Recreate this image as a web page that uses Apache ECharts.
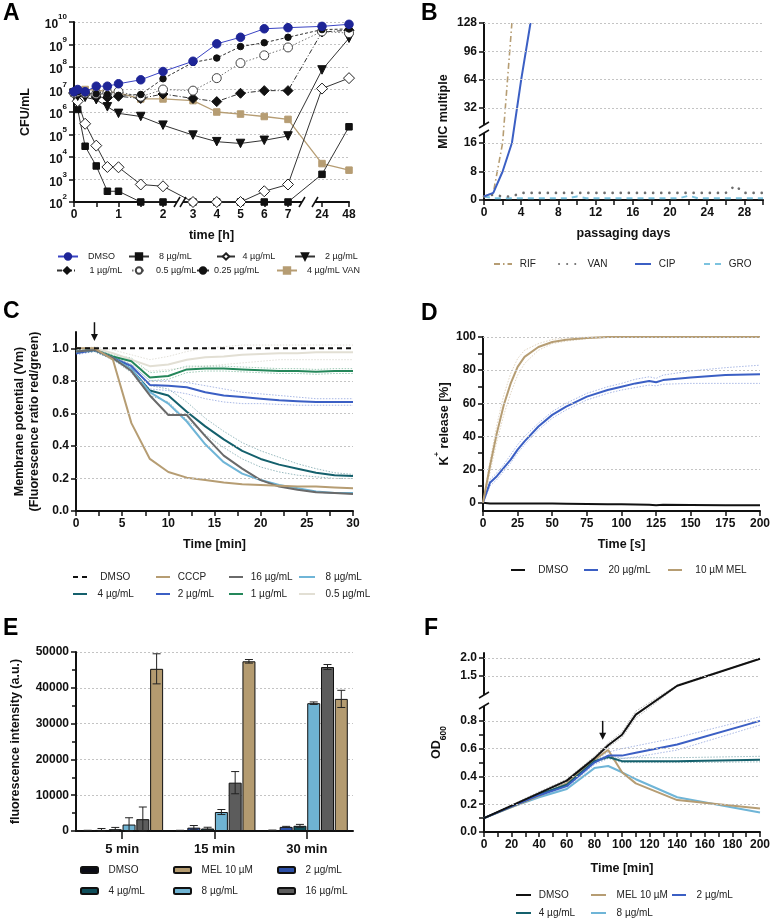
<!DOCTYPE html>
<html>
<head>
<meta charset="utf-8">
<title>Figure</title>
<script src="https://cdn.jsdelivr.net/npm/echarts@6.0.0/dist/echarts.min.js"></script>
<style>
  html, body { margin: 0; padding: 0; background: #fff; }
  #chart { width: 773px; height: 922px; }
</style>
</head>
<body>
<div id="chart"></div>
<script>
// ---------- A: CFU/mL over time ----------
const aTime = [0, 0.083, 0.25, 0.5, 0.75, 1, 1.5, 2, 3, 4, 5, 6, 7, 24, 48];
const aDMSO = [8e6, 1e7, 8e6, 1.4e7, 1.4e7, 1.8e7, 2.7e7, 6.3e7, 1.8e8, 1.07e9, 2.1e9, 5e9, 5.6e9, 6.4e9, 7.9e9];
const a8 = [7e6, 1.3e6, 3e4, 4e3, 3e2, 3e2, 1e2, 1e2, 1e2, 1e2, 1e2, 1e2, 1e2, 1.7e3, 2.2e5];
const a4 = [7e6, 3e6, 3e5, 3.2e4, 3.6e3, 3.5e3, 6e2, 5e2, 1e2, 1e2, 1e2, 3e2, 6e2, 1.1e7, 3.2e7];
const a2 = [7e6, 5e6, 4.5e6, 3.5e6, 1.7e6, 8.7e5, 6.3e5, 2.6e5, 9.4e4, 4.8e4, 4e4, 5.5e4, 8.6e4, 7.4e7, 1.9e9];
const a1 = [7e6, 6e6, 6e6, 4.6e6, 4.4e6, 5e6, 4e6, 6.3e6, 4e6, 2.9e6, 6.8e6, 8.9e6, 8.9e6, 3.6e9, 4.3e9];
const a05 = [7e6, 8e6, 7e6, 6.5e6, 7e6, 8e6, 4.8e6, 1e7, 8.9e6, 3.2e7, 1.5e8, 3.3e8, 7.4e8, 3.8e9, 3.2e9];
const a025 = [7e6, 8e6, 7e6, 6.5e6, 6e6, 5.5e6, 6e6, 3e7, 1.6e8, 2.5e8, 8.1e8, 1.2e9, 2.1e9, 4.6e9, 4.9e9];
const aVAN = [7e6, 8e6, 1e7, 9.5e6, 8e6, 7e6, 3.8e6, 3.8e6, 3.2e6, 1e6, 8.1e5, 6.3e5, 4.7e5, 5.1e3, 2.6e3];
const aXTicks = [0, 0.5, 1, 1.5, 2, 3, 4, 5, 6, 7, 24, 48];
const aXLabels = [0, 1, 2, 3, 4, 5, 6, 7, 24, 48];

// ---------- B: resistance development ----------
const bDays = [0, 1, 2, 3, 4, 5, 6, 7, 8, 9, 10, 11, 12, 13, 14, 15, 16, 17, 18, 19, 20, 21, 22, 23, 24, 25, 26, 27, 28, 29, 30];
const bRIF = [1, 2, 16, 128];
const bCIP = [1, 2, 8, 16, 64, 128];
const bVAN = [1, 1.5, 1, 1, 2, 2, 2, 2, 2, 2, 2, 2, 2, 2, 2, 2, 2, 2, 2, 2, 2, 2, 2, 2, 2, 2, 2, 4, 2, 2, 2];
const bGRO = [1, 0.5, 0.5, 0.5, 0.5, 0.5, 0.5, 0.5, 0.5, 0.5, 1, 0.5, 0.5, 0.5, 0.5, 0.5, 0.5, 0.5, 0.5, 0.5, 0.5, 0.5, 1.2, 0.5, 0.5, 0.5, 0.5, 0.5, 0.5, 0.5, 0.5];
const bXLabels = [0, 4, 8, 12, 16, 20, 24, 28];
const bXTicks = [0, 2, 4, 6, 8, 10, 12, 14, 16, 18, 20, 22, 24, 26, 28, 30];
const bYLabels = [0, 8, 16, 32, 64, 96, 128];

// ---------- C: membrane potential ----------
const cTime = [0, 2, 4, 6, 8, 10, 12, 14, 16, 18, 20, 22, 24, 26, 28, 30];
const cDMSO = [1, 1, 1, 1, 1, 1, 1, 1, 1, 1, 1, 1, 1, 1, 1, 1];
const cCCCP = [1.0, 1.0, 0.93, 0.54, 0.32, 0.24, 0.205, 0.19, 0.175, 0.165, 0.16, 0.155, 0.15, 0.15, 0.145, 0.14];
const c16 = [0.98, 0.99, 0.94, 0.86, 0.71, 0.59, 0.59, 0.46, 0.34, 0.26, 0.19, 0.15, 0.13, 0.115, 0.11, 0.105];
const c8 = [0.98, 0.99, 0.94, 0.87, 0.73, 0.66, 0.55, 0.41, 0.30, 0.23, 0.19, 0.16, 0.14, 0.12, 0.11, 0.11];
const c4 = [0.98, 0.99, 0.94, 0.87, 0.74, 0.71, 0.61, 0.52, 0.44, 0.37, 0.32, 0.285, 0.26, 0.235, 0.22, 0.215];
const c2 = [0.97, 0.99, 0.94, 0.89, 0.775, 0.77, 0.76, 0.73, 0.71, 0.70, 0.69, 0.68, 0.675, 0.67, 0.67, 0.67];
const c1 = [0.98, 0.99, 0.95, 0.92, 0.82, 0.83, 0.87, 0.875, 0.875, 0.87, 0.865, 0.86, 0.86, 0.855, 0.86, 0.86];
const c05 = [0.98, 1.0, 0.97, 0.93, 0.89, 0.90, 0.93, 0.945, 0.95, 0.96, 0.965, 0.97, 0.97, 0.975, 0.975, 0.975];
// replicate spread (dotted lines)
const c4Hi = [0.99, 1.0, 0.95, 0.89, 0.77, 0.75, 0.67, 0.57, 0.49, 0.42, 0.37, 0.33, 0.29, 0.26, 0.235, 0.225];
const c4Lo = [0.97, 0.98, 0.93, 0.85, 0.71, 0.67, 0.56, 0.47, 0.39, 0.32, 0.27, 0.24, 0.22, 0.21, 0.2, 0.2];
const c2Hi = [0.98, 1.0, 0.95, 0.9, 0.8, 0.8, 0.79, 0.77, 0.75, 0.73, 0.72, 0.71, 0.7, 0.69, 0.69, 0.69];
const c2Lo = [0.96, 0.98, 0.93, 0.87, 0.75, 0.74, 0.72, 0.69, 0.67, 0.66, 0.66, 0.655, 0.65, 0.65, 0.65, 0.65];
const c1Hi = [0.99, 1.0, 0.96, 0.94, 0.85, 0.86, 0.89, 0.89, 0.89, 0.885, 0.88, 0.875, 0.875, 0.87, 0.875, 0.875];
const c1Lo = [0.97, 0.98, 0.94, 0.9, 0.8, 0.81, 0.85, 0.86, 0.86, 0.855, 0.85, 0.845, 0.845, 0.84, 0.845, 0.845];
const c05Hi = [0.99, 1.01, 0.99, 0.96, 0.93, 0.95, 0.98, 1.0, 1.01, 1.02, 1.02, 1.02, 1.02, 1.02, 1.02, 1.02];
const c05Lo = [0.97, 0.99, 0.95, 0.9, 0.86, 0.87, 0.88, 0.89, 0.9, 0.91, 0.92, 0.93, 0.93, 0.93, 0.93, 0.93];
const cXLabels = [0, 5, 10, 15, 20, 25, 30];
const cXTicks = [0, 2.5, 5, 7.5, 10, 12.5, 15, 17.5, 20, 22.5, 25, 27.5, 30];
const cYLabels = [0, 0.2, 0.4, 0.6, 0.8, 1.0];

// ---------- D: K+ release ----------
const dTime = [0, 5, 10, 15, 20, 25, 30, 40, 50, 60, 75, 90, 100, 110, 120, 125, 130, 150, 175, 200];
const dDMSO = [0, -0.5, -0.5, -0.5, -0.5, -0.5, -0.5, -0.5, -0.5, -0.6, -0.8, -1, -1, -1.1, -1.3, -1.5, -1.3, -1.4, -1.5, -1.5];
const d20 = [0, 12, 16, 21, 26, 32, 37, 46, 53, 58, 64, 68, 70, 72, 73.5, 72.7, 74, 75.5, 77, 77.5];
const dMEL = [0, 22, 42, 59, 72, 82, 88, 94, 97, 98.4, 99.4, 100, 100, 100, 100, 100, 100, 100, 100, 100];
const d20Hi = [0, 14, 18, 23, 29, 35, 40, 48, 55, 60, 66, 70, 72, 74.5, 76, 75, 77, 79.5, 81.5, 83];
const d20Lo = [0, 10, 14, 19, 24, 30, 35, 44, 51, 56, 62, 66, 68, 69.5, 71, 70.5, 71.5, 72, 72, 72];
const dMELHi = [0, 25, 47, 65, 78, 87, 92, 96, 98.5, 99.5, 100, 100, 100, 100, 100, 100, 100, 100, 100, 100];
const dMELLo = [0, 18, 37, 53, 66, 77, 84, 92, 96, 97.5, 99, 100, 100, 100, 100, 100, 100, 100, 100, 100];
const dXLabels = [0, 25, 50, 75, 100, 125, 150, 175, 200];
const dYLabels = [0, 20, 40, 60, 80, 100];
const dYTicks = [0, 10, 20, 30, 40, 50, 60, 70, 80, 90, 100];

// ---------- E: fluorescence bars ----------
const eCats = ['5 min', '15 min', '30 min'];
const eDMSO = [150, 150, 200];
const e2 = [300, 930, 1150];
const e4 = [500, 700, 1450];
const e8 = [1800, 5300, 35700];
const e16 = [3300, 13500, 45800];
const eMEL = [45300, 47400, 36900];
const eDMSOErr = [50, 50, 50];
const e2Err = [400, 600, 150];
const e4Err = [500, 350, 400];
const e8Err = [1900, 700, 350];
const e16Err = [3400, 3100, 700];
const eMELErr = [4200, 500, 2400];

// ---------- F: OD600 ----------
const fTime = [0, 20, 40, 60, 80, 90, 100, 110, 140, 200];
const fDMSO = [0.1, 0.19, 0.28, 0.37, 0.53, 0.625, 0.7, 0.845, 1.23, 1.98];
const fMEL = [0.1, 0.18, 0.26, 0.35, 0.52, 0.59, 0.43, 0.35, 0.23, 0.17];
const f2 = [0.1, 0.185, 0.265, 0.33, 0.50, 0.55, 0.55, 0.57, 0.63, 0.80];
const f4 = [0.1, 0.185, 0.27, 0.34, 0.51, 0.54, 0.51, 0.51, 0.51, 0.52];
const f8 = [0.1, 0.18, 0.25, 0.31, 0.46, 0.475, 0.43, 0.38, 0.25, 0.14];
const fDMSOHi = [0.1, 0.195, 0.29, 0.38, 0.545, 0.64, 0.72, 0.87, 1.25, 1.99];
const fDMSOLo = [0.1, 0.185, 0.27, 0.36, 0.515, 0.61, 0.68, 0.82, 1.21, 1.97];
const f2Hi = [0.1, 0.19, 0.275, 0.345, 0.515, 0.575, 0.6, 0.62, 0.68, 0.83];
const f2Lo = [0.1, 0.18, 0.255, 0.315, 0.485, 0.53, 0.53, 0.54, 0.59, 0.77];
const f4Hi = [0.1, 0.19, 0.28, 0.35, 0.52, 0.55, 0.53, 0.535, 0.535, 0.545];
const f4Lo = [0.1, 0.18, 0.26, 0.33, 0.5, 0.53, 0.5, 0.5, 0.5, 0.505];
const fXLabels = [0, 20, 40, 60, 80, 100, 120, 140, 160, 180, 200];
const fXTicks = [0, 10, 20, 30, 40, 50, 60, 70, 80, 90, 100, 110, 120, 130, 140, 150, 160, 170, 180, 190, 200];
const fYLabels = [0, 0.2, 0.4, 0.6, 0.8, 1.5, 2.0];
const fYTicks = [0, 0.1, 0.2, 0.3, 0.4, 0.5, 0.6, 0.7, 0.8, 1.5, 2.0];

// ---------- styling ----------
const FONT = '"Liberation Sans", Arial, sans-serif';
const TAN = '#b69d73', BLUE = '#3b5fc4', TEAL = '#14606c', LBLUE = '#6fb5d7',
      GRAY = '#6a6a6a', GREEN = '#24875a', BEIGE = '#e2dfd4', NAVY = '#1e2597', INK = '#111';

// broken axes: map real values onto the drawn axis length
function ax(t) {
  if (t <= 2) return t * 44.5;
  if (t <= 7) return 119 + (t - 3) * 23.75;
  if (t <= 24) return 214 + (t - 7) * 2;
  return 248 + (t - 24) * 27 / 24;
}
function by(v) { return v <= 16 ? v * 57 / 16 : 92 + (v - 32) * 85 / 96; }
function fy(v) {
  if (v <= 0.9) return v * 125 / 0.9;
  if (v >= 1.1) return 156 + (v - 1.5) * 36;
  return 125 + (v - 0.9) * 83;
}
function lookup(fn, vals, fmt) {
  return function (v) {
    const hit = vals.find(t => Math.abs(fn(t) - v) < 1e-6);
    return hit === undefined ? '' : fmt(hit);
  };
}

function merge(a, b) {
  const o = Object.assign({}, a);
  for (const k in b) {
    const bv = b[k];
    if (bv && typeof bv === 'object' && !Array.isArray(bv) && a[k] && typeof a[k] === 'object') o[k] = merge(a[k], bv);
    else o[k] = bv;
  }
  return o;
}
const BASE_AXIS = {
  axisLine: { show: true, onZero: false, lineStyle: { color: INK, width: 2 } },
  axisTick: { show: true, length: 5, lineStyle: { color: INK, width: 1.5 } },
  axisLabel: { color: INK, fontSize: 12, fontWeight: 'bold', fontFamily: FONT, margin: 7 },
  splitLine: { show: false },
  nameLocation: 'middle',
  nameTextStyle: { color: INK, fontSize: 12.5, fontWeight: 'bold', fontFamily: FONT }
};
const DOT_GRID = { show: true, lineStyle: { color: '#c4c4c4', type: [2, 2], width: 1 } };
function axis(gi, extra) { return merge(BASE_AXIS, Object.assign({ gridIndex: gi }, extra)); }

function gridSeries(gi, vals) {
  return {
    type: 'line', xAxisIndex: gi, yAxisIndex: gi, data: [], silent: true, z: 1,
    markLine: {
      silent: true, symbol: ['none', 'none'], label: { show: false }, animation: false,
      lineStyle: { color: '#c4c4c4', type: [2, 2], width: 1 },
      emphasis: { disabled: true },
      data: vals.map(v => ({ yAxis: v }))
    }
  };
}
function pairs(xs, ys, fx, fyv) {
  return ys.map((y, i) => [fx ? fx(xs[i]) : xs[i], fyv ? fyv(y) : y]);
}
function lineS(name, gi, data, color, width, type, extra) {
  return Object.assign({
    name, type: 'line', xAxisIndex: gi, yAxisIndex: gi, data, symbol: 'none', z: 3,
    lineStyle: { color, width, type: type || 'solid' }, itemStyle: { color }
  }, extra || {});
}
// faint dotted replicate line
function sdS(gi, data, color) {
  return { type: 'line', xAxisIndex: gi, yAxisIndex: gi, data, symbol: 'none', z: 2, silent: true,
    lineStyle: { color, width: 0.8, type: [1.5, 1.5], opacity: 0.55 } };
}
function markS(name, data, sym, size, fill, border, lineColor, lineType, extra) {
  return Object.assign({
    name, type: 'line', xAxisIndex: 0, yAxisIndex: 0, data, symbol: sym, symbolSize: size, z: 3,
    showAllSymbol: true,
    itemStyle: { color: fill, borderColor: border, borderWidth: 1 },
    lineStyle: { color: lineColor, width: 1, type: lineType || 'solid' }
  }, extra || {});
}

// one legend per entry, so each sits where the figure puts it
function leg(name, iconLeft, textLeft, rowY, iconW, iconH, lineOnly, fontSize) {
  const fs = fontSize || 10;
  const n = Math.max(0, Math.round((textLeft - iconLeft - iconW - 5) / (fs * 0.28)));
  const pad = ' '.repeat(n);
  const o = {
    data: [name], left: iconLeft, top: rowY - 7, padding: 0, itemWidth: iconW, itemHeight: iconH || 10,
    selectedMode: false, formatter: nm => pad + nm.split('#')[0],
    textStyle: { fontSize: fs, color: '#222', fontFamily: FONT }
  };
  if (lineOnly) o.itemStyle = { opacity: 0 };
  return o;
}
const legL = (name, il, tl, y, w) => leg(name, il, tl, y, w, 10, true);
const legA = (name, il, tl, y, w) => leg(name, il, tl, y, w, 8, false, 9);

const E_BW = 13, E_GAP = 0.06, E_STEP = E_BW * (1 + E_GAP);
const eSets = [
  ['DMSO#E', eDMSO, eDMSOErr, '#0b0c16'],
  ['2 µg/mL#E', e2, e2Err, '#2c4fa6'],
  ['4 µg/mL#E', e4, e4Err, '#0f4e5a'],
  ['8 µg/mL#E', e8, e8Err, '#6fb3d2'],
  ['16 µg/mL#E', e16, e16Err, '#5c5c5c'],
  ['MEL 10 µM#E', eMEL, eMELErr, '#b49b70']
];
const eErrData = [];
eSets.forEach((s, k) => s[1].forEach((v, c) => eErrData.push([c, v, s[2][c], k])));

const letters = [['A', 3, 2], ['B', 421, 2], ['C', 3, 300], ['D', 421, 302], ['E', 3, 617], ['F', 424, 617]];

const option = {
  animation: false,
  backgroundColor: '#fff',
  textStyle: { fontFamily: FONT },
  title: letters.map(l => ({ text: l[0], left: l[1], top: l[2], padding: 0,
    textStyle: { fontSize: 23, fontWeight: 'bold', color: '#000', fontFamily: FONT } })),
  grid: [
    { left: 74, top: 22, width: 275, height: 180 },
    { left: 484, top: 23, width: 279, height: 177 },
    { left: 76, top: 332, width: 277, height: 179 },
    { left: 483, top: 337, width: 279, height: 174 },
    { left: 76, top: 652, width: 277, height: 179 },
    { left: 484, top: 653, width: 278, height: 179 }
  ],
  xAxis: [
    axis(0, { type: 'value', min: 0, max: 275, name: 'time [h]', nameGap: 27,
      axisLabel: { customValues: aXLabels.map(ax), formatter: lookup(ax, aXLabels, String) },
      axisTick: { customValues: aXTicks.map(ax) } }),
    axis(1, { type: 'value', min: 0, max: 30, name: 'passaging days', nameGap: 27,
      axisLabel: { customValues: bXLabels }, axisTick: { customValues: bXTicks } }),
    axis(2, { type: 'value', min: 0, max: 30, name: 'Time [min]', nameGap: 27,
      axisLabel: { customValues: cXLabels }, axisTick: { customValues: cXTicks } }),
    axis(3, { type: 'value', min: 0, max: 200, name: 'Time [s]', nameGap: 27,
      axisLabel: { customValues: dXLabels }, axisTick: { customValues: dXLabels } }),
    axis(4, { type: 'category', data: eCats, axisTick: { alignWithLabel: true, length: 8 },
      axisLabel: { fontSize: 13, margin: 12 } }),
    axis(5, { type: 'value', min: 0, max: 200, name: 'Time [min]', nameGap: 30,
      axisLabel: { customValues: fXLabels }, axisTick: { customValues: fXTicks } })
  ],
  yAxis: [
    axis(0, { type: 'log', logBase: 10, min: 100, max: 1e10, name: 'CFU/mL', nameGap: 42,
      splitLine: DOT_GRID,
      axisLabel: {
        formatter: v => '{b|10}{s|' + Math.round(Math.log10(v)) + '}',
        rich: {
          b: { fontSize: 12, fontWeight: 'bold', color: INK, fontFamily: FONT, lineHeight: 18, verticalAlign: 'bottom' },
          s: { fontSize: 8, fontWeight: 'bold', color: INK, fontFamily: FONT, verticalAlign: 'top' }
        }
      } }),
    axis(1, { type: 'value', min: 0, max: 177, name: 'MIC multiple', nameGap: 34,
      axisLabel: { customValues: bYLabels.map(by), formatter: lookup(by, bYLabels, String) },
      axisTick: { customValues: bYLabels.map(by) } }),
    axis(2, { type: 'value', min: 0, max: 1.1, name: 'Membrane potential (Vm)\n(Fluorescence ratio red/green)',
      nameGap: 34, nameTextStyle: { lineHeight: 15 },
      axisLabel: { customValues: cYLabels, formatter: v => v.toFixed(1) }, axisTick: { customValues: cYLabels } }),
    axis(3, { type: 'value', min: -5, max: 100, name: '{n|K}{s|+}{n| release [%]}', nameGap: 32,
      nameTextStyle: { rich: {
        n: { fontSize: 12.5, fontWeight: 'bold', color: INK, fontFamily: FONT, lineHeight: 18, verticalAlign: 'bottom' },
        s: { fontSize: 8, fontWeight: 'bold', color: INK, fontFamily: FONT, verticalAlign: 'top' } } },
      axisLabel: { customValues: dYLabels }, axisTick: { customValues: dYTicks } }),
    axis(4, { type: 'value', min: 0, max: 50000, interval: 10000, name: 'fluorescence intensity (a.u.)', nameGap: 54,
      splitLine: DOT_GRID, axisLabel: { formatter: v => String(v) },
      minorTick: { show: true, splitNumber: 2, length: 4, lineStyle: { color: INK, width: 1.5 } } }),
    axis(5, { type: 'value', min: 0, max: 179, name: '{n|OD}{u|600}', nameGap: 36,
      nameTextStyle: { rich: {
        n: { fontSize: 12.5, fontWeight: 'bold', color: INK, fontFamily: FONT, lineHeight: 18, verticalAlign: 'top' },
        u: { fontSize: 8.5, fontWeight: 'bold', color: INK, fontFamily: FONT, verticalAlign: 'bottom' } } },
      axisLabel: { customValues: fYLabels.map(fy), formatter: lookup(fy, fYLabels, v => v.toFixed(1)) },
      axisTick: { customValues: fYTicks.map(fy) } })
  ],
  legend: [
    // A
    legA('DMSO#A', 57, 88, 259, 20), legA('8 µg/mL#A', 128, 158, 259, 20),
    legA('4 µg/mL#A', 216, 242, 259, 18), legA('2 µg/mL#A', 294, 325, 259, 20),
    legA('1 µg/mL#A', 56, 88, 273, 20), legA('0.5 µg/mL#A', 131, 154, 273, 14),
    legA('0.25 µg/mL#A', 196, 213, 273, 12), legA('4 µg/mL VAN#A', 276, 307, 273, 20),
    // B
    legL('RIF', 493, 518, 266, 18), legL('VAN', 558, 588, 266, 18),
    legL('CIP', 634, 658, 266, 16), legL('GRO', 703, 727, 266, 17),
    // C
    legL('DMSO#C', 72, 100, 579, 14), legL('CCCP', 155, 177, 579, 14),
    legL('16 µg/mL#C', 228, 250, 579, 14), legL('8 µg/mL#C', 298, 325, 579, 16),
    legL('4 µg/mL#C', 72, 97, 596, 14), legL('2 µg/mL#C', 155, 177, 596, 14),
    legL('1 µg/mL#C', 228, 250, 596, 14), legL('0.5 µg/mL#C', 298, 325, 596, 16),
    // D
    legL('DMSO#D', 510, 538, 572, 14), legL('20 µg/mL', 583, 608, 572, 14), legL('10 µM MEL', 667, 695, 572, 14),
    // E
    leg('DMSO#E', 80, 108, 872, 17, 6), leg('MEL 10 µM#E', 173, 200, 872, 17, 6), leg('2 µg/mL#E', 277, 305, 872, 17, 6),
    leg('4 µg/mL#E', 80, 108, 893, 17, 6), leg('8 µg/mL#E', 173, 200, 893, 17, 6), leg('16 µg/mL#E', 277, 305, 893, 17, 6),
    // F
    legL('DMSO#F', 515, 538, 897, 15), legL('MEL 10 µM#F', 590, 617, 897, 15), legL('2 µg/mL#F', 671, 695, 897, 14),
    legL('4 µg/mL#F', 515, 538, 915, 15), legL('8 µg/mL#F', 590, 617, 915, 15)
  ],
  series: [
    // ----- A -----
    markS('4 µg/mL VAN#A', pairs(aTime, aVAN, ax), 'rect', 6.5, TAN, TAN, TAN, 'solid', { lineStyle: { color: TAN, width: 1.3 } }),
    markS('8 µg/mL#A', pairs(aTime, a8, ax), 'rect', 6.5, INK, INK, '#333'),
    markS('4 µg/mL#A', pairs(aTime, a4, ax), 'diamond', 11, '#fff', '#222', '#333'),
    markS('2 µg/mL#A', pairs(aTime, a2, ax), 'triangle', 8.5, INK, INK, '#333', 'solid', { symbolRotate: 180 }),
    markS('1 µg/mL#A', pairs(aTime, a1, ax), 'diamond', 10, INK, INK, '#333', [5, 2, 1, 2]),
    markS('0.5 µg/mL#A', pairs(aTime, a05, ax), 'circle', 9, '#fff', '#444', '#777', [1.5, 2]),
    markS('0.25 µg/mL#A', pairs(aTime, a025, ax), 'circle', 6.5, INK, INK, '#333', [3, 2]),
    markS('DMSO#A', pairs(aTime, aDMSO, ax), 'circle', 8.5, NAVY, NAVY, '#3a44c4', 'solid', { z: 4 }),

    // ----- B -----
    gridSeries(1, [8, 16, 32, 64, 96, 128].map(by)),
    lineS('GRO', 1, pairs(bDays, bGRO, null, by), '#7cc3df', 2, [6, 5]),
    lineS('VAN', 1, pairs(bDays, bVAN, null, by), '#6e6e6e', 2.6, [0.1, 8], { lineStyle: { color: '#6e6e6e', width: 2.6, type: [0.1, 8], cap: 'round' } }),
    lineS('RIF', 1, pairs(bDays, bRIF, null, by), TAN, 1.6, [6, 3, 1.5, 3]),
    lineS('CIP', 1, pairs(bDays, bCIP, null, by), BLUE, 2),

    // ----- C -----
    gridSeries(2, [0.2, 0.4, 0.6, 0.8]),
    sdS(2, pairs(cTime, c05Hi), '#bdb8a8'), sdS(2, pairs(cTime, c05Lo), '#bdb8a8'),
    sdS(2, pairs(cTime, c1Hi), GREEN), sdS(2, pairs(cTime, c1Lo), GREEN),
    sdS(2, pairs(cTime, c2Hi), BLUE), sdS(2, pairs(cTime, c2Lo), BLUE),
    sdS(2, pairs(cTime, c4Hi), TEAL), sdS(2, pairs(cTime, c4Lo), TEAL),
    lineS('0.5 µg/mL#C', 2, pairs(cTime, c05), BEIGE, 2),
    lineS('1 µg/mL#C', 2, pairs(cTime, c1), GREEN, 2),
    lineS('2 µg/mL#C', 2, pairs(cTime, c2), BLUE, 2),
    lineS('4 µg/mL#C', 2, pairs(cTime, c4), TEAL, 2),
    lineS('8 µg/mL#C', 2, pairs(cTime, c8), LBLUE, 2),
    lineS('16 µg/mL#C', 2, pairs(cTime, c16), GRAY, 2),
    lineS('CCCP', 2, pairs(cTime, cCCCP), TAN, 2),
    lineS('DMSO#C', 2, pairs(cTime, cDMSO), INK, 1.8, [5, 4]),

    // ----- D -----
    gridSeries(3, [20, 40, 60, 80, 100]),
    sdS(3, pairs(dTime, d20Hi), BLUE), sdS(3, pairs(dTime, d20Lo), BLUE),
    sdS(3, pairs(dTime, dMELHi), TAN), sdS(3, pairs(dTime, dMELLo), TAN),
    lineS('DMSO#D', 3, pairs(dTime, dDMSO), INK, 2),
    lineS('20 µg/mL', 3, pairs(dTime, d20), BLUE, 2),
    lineS('10 µM MEL', 3, pairs(dTime, dMEL), TAN, 2),

    // ----- E -----
    ...eSets.map(s => ({
      name: s[0], type: 'bar', xAxisIndex: 4, yAxisIndex: 4, data: s[1],
      barWidth: E_BW, barGap: (E_GAP * 100) + '%',
      itemStyle: { color: s[3], borderColor: '#111', borderWidth: 1 }
    })),
    {
      type: 'custom', xAxisIndex: 4, yAxisIndex: 4, z: 5, silent: true, data: eErrData,
      renderItem: function (params, api) {
        const c = api.value(0), v = api.value(1), e = api.value(2), k = api.value(3);
        const x = api.coord([c, v])[0] + (k - 2.5) * E_STEP;
        const yt = api.coord([c, v + e])[1];
        const yb = api.coord([c, Math.max(0, v - e)])[1];
        const st = { stroke: '#222', lineWidth: 1 };
        return { type: 'group', children: [
          { type: 'line', shape: { x1: x, y1: yt, x2: x, y2: yb }, style: st },
          { type: 'line', shape: { x1: x - 4, y1: yt, x2: x + 4, y2: yt }, style: st },
          { type: 'line', shape: { x1: x - 4, y1: yb, x2: x + 4, y2: yb }, style: st }
        ] };
      }
    },

    // ----- F -----
    gridSeries(5, [0.2, 0.4, 0.6, 0.8, 1.5, 2.0].map(fy)),
    sdS(5, pairs(fTime, fDMSOHi, null, fy), '#555'), sdS(5, pairs(fTime, fDMSOLo, null, fy), '#555'),
    sdS(5, pairs(fTime, f2Hi, null, fy), BLUE), sdS(5, pairs(fTime, f2Lo, null, fy), BLUE),
    sdS(5, pairs(fTime, f4Hi, null, fy), TEAL), sdS(5, pairs(fTime, f4Lo, null, fy), TEAL),
    lineS('8 µg/mL#F', 5, pairs(fTime, f8, null, fy), LBLUE, 2),
    lineS('MEL 10 µM#F', 5, pairs(fTime, fMEL, null, fy), TAN, 2),
    lineS('4 µg/mL#F', 5, pairs(fTime, f4, null, fy), TEAL, 2),
    lineS('2 µg/mL#F', 5, pairs(fTime, f2, null, fy), BLUE, 2),
    lineS('DMSO#F', 5, pairs(fTime, fDMSO, null, fy), INK, 2)
  ]
};

const chart = echarts.init(document.getElementById('chart'));
chart.setOption(option);

// axis breaks and arrows, placed through the chart's own coordinate conversion
const px = (gi, x, y) => chart.convertToPixel({ gridIndex: gi }, [x, y]);
const overlay = [];
const STK = { stroke: INK, lineWidth: 1.5 };
function breakH(gi, u0, u1, yv) {
  const p0 = px(gi, u0, yv), p1 = px(gi, u1, yv);
  overlay.push({ type: 'rect', z: 50, shape: { x: p0[0], y: p0[1] - 3, width: p1[0] - p0[0], height: 6 }, style: { fill: '#fff' } });
  [p0, p1].forEach(p => overlay.push({ type: 'line', z: 51, shape: { x1: p[0] - 3, y1: p[1] + 5, x2: p[0] + 3, y2: p[1] - 5 }, style: STK }));
}
function breakV(gi, xv, v0, v1) {
  const p0 = px(gi, xv, v0), p1 = px(gi, xv, v1);
  overlay.push({ type: 'rect', z: 50, shape: { x: p0[0] - 3, y: p1[1], width: 6, height: p0[1] - p1[1] }, style: { fill: '#fff' } });
  [p0, p1].forEach(p => overlay.push({ type: 'line', z: 51, shape: { x1: p[0] - 5, y1: p[1] + 3, x2: p[0] + 5, y2: p[1] - 3 }, style: STK }));
}
function arrow(gi, xv, v0, v1) {
  const p0 = px(gi, xv, v0), p1 = px(gi, xv, v1);
  overlay.push({ type: 'line', z: 51, shape: { x1: p0[0], y1: p0[1], x2: p1[0], y2: p1[1] - 5 }, style: STK });
  overlay.push({ type: 'polygon', z: 51, shape: { points: [[p1[0] - 3.5, p1[1] - 7], [p1[0] + 3.5, p1[1] - 7], [p1[0], p1[1]]] }, style: { fill: INK } });
}
breakH(0, 103, 109, 100);
breakH(0, 228, 241, 100);
breakV(1, 0, 67, 75);
breakV(5, 0, 126, 137);
arrow(2, 2, 1.16, 1.045);
arrow(5, 86, fy(0.8), fy(0.665));
chart.setOption({ graphic: overlay });
</script>
</body>
</html>
